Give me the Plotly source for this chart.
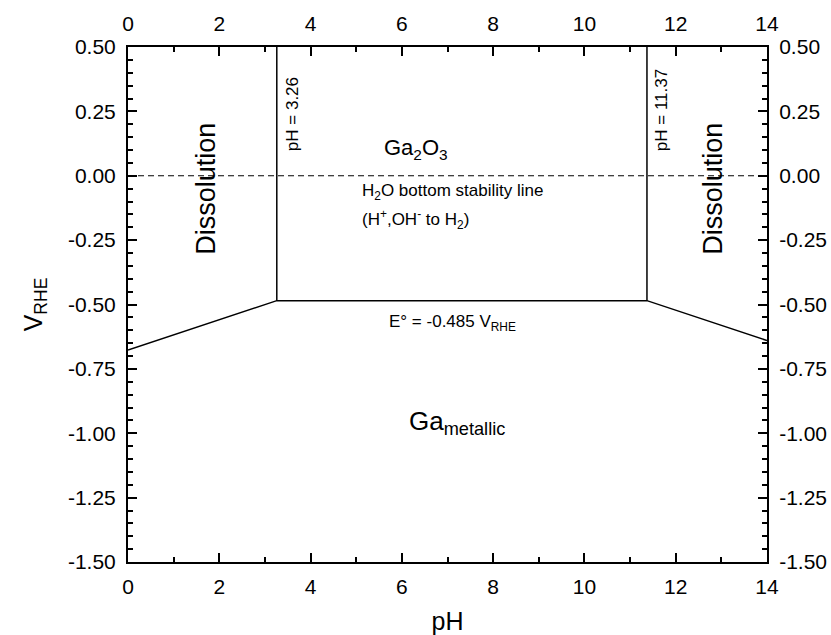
import plotly.graph_objects as go

# Data
boundary_ph = [0, 3.26, 11.37, 14]
boundary_v = [-0.677, -0.485, -0.485, -0.640]
vertical_ph = [3.26, 11.37]
vertical_v_bottom = -0.485
vertical_v_top = 0.5
water_ph = [0, 14]
water_v = [0.0, 0.0]
x_range = [0, 14]
y_range = [-1.5, 0.5]
x_ticks = [0, 2, 4, 6, 8, 10, 12, 14]
y_ticks = [0.5, 0.25, 0.0, -0.25, -0.5, -0.75, -1.0, -1.25, -1.5]
y_ticktext = ["%.2f" % v for v in y_ticks]
x_ticktext = [str(v) for v in x_ticks]

FONT = "Liberation Sans, Arial, sans-serif"
fig = go.Figure()

line_style = dict(color="black", width=1.5)
fig.add_trace(go.Scatter(x=boundary_ph, y=boundary_v, mode="lines", line=line_style,
                         showlegend=False, hoverinfo="skip"))
for ph in vertical_ph:
    fig.add_trace(go.Scatter(x=[ph, ph], y=[vertical_v_bottom, vertical_v_top], mode="lines",
                             line=line_style, showlegend=False, hoverinfo="skip"))
fig.add_trace(go.Scatter(x=water_ph, y=water_v, mode="lines",
                         line=dict(color="black", width=1, dash="6px,4px"),
                         showlegend=False, hoverinfo="skip"))
# invisible trace for secondary axes
fig.add_trace(go.Scatter(x=x_range, y=y_range, xaxis="x2", yaxis="y2", mode="markers",
                         marker=dict(opacity=0), showlegend=False, hoverinfo="skip"))

tickfont = dict(family=FONT, size=21, color="black")
common = dict(showline=True, linecolor="black", linewidth=2, mirror=False,
              ticks="inside", ticklen=9, tickwidth=2, tickcolor="black",
              showgrid=False, zeroline=False, tickfont=tickfont, automargin=False)
xminor = dict(ticks="inside", dtick=1, tick0=0, ticklen=5, tickwidth=1.5, tickcolor="black")
yminor = dict(ticks="inside", dtick=0.05, tick0=0, ticklen=5, tickwidth=1.5, tickcolor="black")

fig.update_layout(
    width=831, height=635,
    margin=dict(l=128, r=64, t=47, b=73),
    plot_bgcolor="white", paper_bgcolor="white",
    font=dict(family=FONT, color="black"),
    xaxis=dict(range=x_range, tickmode="array", tickvals=x_ticks, ticktext=x_ticktext,
               minor=xminor, ticklabelstandoff=5,
               title=dict(text="pH", font=dict(family=FONT, size=25), standoff=16),
               **common),
    xaxis2=dict(range=x_range, tickmode="array", tickvals=x_ticks, ticktext=x_ticktext,
                overlaying="x", side="top", anchor="y", minor=xminor, ticklabelstandoff=6,
                **common),
    yaxis=dict(range=y_range, tickmode="array", tickvals=y_ticks, ticktext=y_ticktext,
               minor=yminor, ticklabelstandoff=6,
               title=dict(text="V<sub>RHE</sub>", font=dict(family=FONT, size=25), standoff=18),
               **common),
    yaxis2=dict(range=y_range, tickmode="array", tickvals=y_ticks, ticktext=y_ticktext,
                overlaying="y", side="right", anchor="x", minor=yminor, ticklabelstandoff=6,
                **common),
)

def ann(text, x, y, size, angle=0, xanchor="center"):
    fig.add_annotation(text=text, x=x, y=y, xref="x", yref="y", showarrow=False,
                       textangle=angle, xanchor=xanchor, yanchor="middle",
                       font=dict(family=FONT, size=size, color="black"))

ann("Dissolution", 1.69, -0.05, 27, angle=-90)
ann("Dissolution", 12.8, -0.05, 27, angle=-90)
ann("pH = 3.26", 3.62, 0.24, 17, angle=-90)
ann("pH = 11.37", 11.68, 0.255, 17, angle=-90)
ann("Ga<sub>2</sub>O<sub>3</sub>", 6.31, 0.105, 22)
ann("H<sub>2</sub>O bottom stability line", 5.08, -0.063, 17, xanchor="left")
ann("(H<sup>+</sup>,OH<sup>-</sup> to H<sub>2</sub>)", 5.08, -0.168, 17, xanchor="left")
ann("E° = -0.485 V<sub>RHE</sub>", 7.1, -0.572, 17)
ann("Ga<sub>metallic</sub>", 7.2, -0.96, 26)

fig.write_html("out.html")
